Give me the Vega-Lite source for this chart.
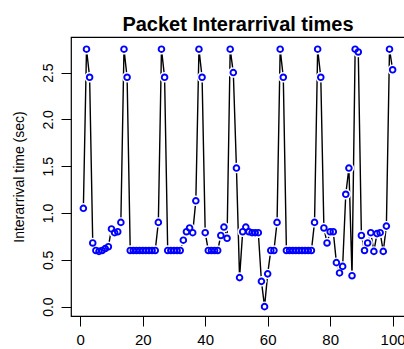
{
  "$schema": "https://vega.github.io/schema/vega-lite/v6.json",
  "autosize": {"type": "none"},
  "padding": {"left": 71, "top": 37, "right": 0, "bottom": 33},
  "width": 334,
  "height": 279,
  "background": "white",
  "config": {
    "font": "Liberation Sans",
    "view": {"stroke": "black", "strokeWidth": 1.2},
    "axis": {
      "grid": false,
      "domain": false,
      "tickColor": "black",
      "tickWidth": 1,
      "tickSize": 10,
      "labelColor": "black",
      "labelFont": "Liberation Sans",
      "labelFlush": false,
      "labelOverlap": false,
      "titleColor": "black",
      "titleFont": "Liberation Sans"
    }
  },
  "title": {
    "text": "Packet Interarrival times",
    "font": "Liberation Sans",
    "fontSize": 20,
    "fontWeight": "bold",
    "color": "black",
    "anchor": "middle",
    "baseline": "alphabetic",
    "offset": 7,
    "dy": 21
  },
  "data": {
    "values": [
      {"idx": 1, "t": 1.05}, {"idx": 2, "t": 2.75}, {"idx": 3, "t": 2.45}, {"idx": 4, "t": 0.68},
      {"idx": 5, "t": 0.6}, {"idx": 6, "t": 0.59}, {"idx": 7, "t": 0.6}, {"idx": 8, "t": 0.62},
      {"idx": 9, "t": 0.64}, {"idx": 10, "t": 0.83}, {"idx": 11, "t": 0.79}, {"idx": 12, "t": 0.8},
      {"idx": 13, "t": 0.9}, {"idx": 14, "t": 2.75}, {"idx": 15, "t": 2.45}, {"idx": 16, "t": 0.6},
      {"idx": 17, "t": 0.6}, {"idx": 18, "t": 0.6}, {"idx": 19, "t": 0.6}, {"idx": 20, "t": 0.6},
      {"idx": 21, "t": 0.6}, {"idx": 22, "t": 0.6}, {"idx": 23, "t": 0.6}, {"idx": 24, "t": 0.6},
      {"idx": 25, "t": 0.9}, {"idx": 26, "t": 2.75}, {"idx": 27, "t": 2.45}, {"idx": 28, "t": 0.6},
      {"idx": 29, "t": 0.6}, {"idx": 30, "t": 0.6}, {"idx": 31, "t": 0.6}, {"idx": 32, "t": 0.6},
      {"idx": 33, "t": 0.71}, {"idx": 34, "t": 0.8}, {"idx": 35, "t": 0.84}, {"idx": 36, "t": 0.79},
      {"idx": 37, "t": 1.13}, {"idx": 38, "t": 2.75}, {"idx": 39, "t": 2.45}, {"idx": 40, "t": 0.79},
      {"idx": 41, "t": 0.6}, {"idx": 42, "t": 0.6}, {"idx": 43, "t": 0.6}, {"idx": 44, "t": 0.6},
      {"idx": 45, "t": 0.76}, {"idx": 46, "t": 0.85}, {"idx": 47, "t": 0.73}, {"idx": 48, "t": 2.75},
      {"idx": 49, "t": 2.5}, {"idx": 50, "t": 1.48}, {"idx": 51, "t": 0.31}, {"idx": 52, "t": 0.8},
      {"idx": 53, "t": 0.85}, {"idx": 54, "t": 0.8}, {"idx": 55, "t": 0.79}, {"idx": 56, "t": 0.79},
      {"idx": 57, "t": 0.79}, {"idx": 58, "t": 0.27}, {"idx": 59, "t": 0.0}, {"idx": 60, "t": 0.35},
      {"idx": 61, "t": 0.6}, {"idx": 62, "t": 0.6}, {"idx": 63, "t": 0.9}, {"idx": 64, "t": 2.75},
      {"idx": 65, "t": 2.45}, {"idx": 66, "t": 0.6}, {"idx": 67, "t": 0.6}, {"idx": 68, "t": 0.6},
      {"idx": 69, "t": 0.6}, {"idx": 70, "t": 0.6}, {"idx": 71, "t": 0.6}, {"idx": 72, "t": 0.6},
      {"idx": 73, "t": 0.6}, {"idx": 74, "t": 0.6}, {"idx": 75, "t": 0.9}, {"idx": 76, "t": 2.75},
      {"idx": 77, "t": 2.45}, {"idx": 78, "t": 0.84}, {"idx": 79, "t": 0.68}, {"idx": 80, "t": 0.8},
      {"idx": 81, "t": 0.8}, {"idx": 82, "t": 0.47}, {"idx": 83, "t": 0.36}, {"idx": 84, "t": 0.43},
      {"idx": 85, "t": 1.2}, {"idx": 86, "t": 1.48}, {"idx": 87, "t": 0.33}, {"idx": 88, "t": 2.75},
      {"idx": 89, "t": 2.72}, {"idx": 90, "t": 0.76}, {"idx": 91, "t": 0.6}, {"idx": 92, "t": 0.68},
      {"idx": 93, "t": 0.79}, {"idx": 94, "t": 0.59}, {"idx": 95, "t": 0.78}, {"idx": 96, "t": 0.79},
      {"idx": 97, "t": 0.59}, {"idx": 98, "t": 0.86}, {"idx": 99, "t": 2.75}, {"idx": 100, "t": 2.53}
    ]
  },
  "encoding": {
    "x": {
      "field": "idx",
      "type": "quantitative",
      "scale": {"domain": [-2.96, 103.96], "nice": false, "zero": false},
      "axis": {
        "title": null,
        "values": [0, 20, 40, 60, 80, 100],
        "format": "d",
        "labelFontSize": 15,
        "labelBaseline": "top",
        "labelPadding": 6
      }
    },
    "y": {
      "field": "t",
      "type": "quantitative",
      "scale": {"domain": [-0.1, 2.88], "nice": false, "zero": false},
      "axis": {
        "title": "Interarrival time (sec)",
        "values": [0, 0.5, 1, 1.5, 2, 2.5],
        "format": ".1f",
        "labelFontSize": 14,
        "labelAngle": 270,
        "labelAlign": "center",
        "labelBaseline": "bottom",
        "labelPadding": 6,
        "titleFontSize": 14,
        "titleFontWeight": "normal",
        "titleAngle": 270,
        "titleAlign": "center",
        "titleBaseline": "middle",
        "titleX": -52,
        "titleY": 139.5
      }
    }
  },
  "layer": [
    {"mark": {"type": "line", "color": "black", "strokeWidth": 1.4}},
    {"mark": {"type": "point", "shape": "circle", "filled": true, "color": "white", "strokeWidth": 0, "size": 110, "opacity": 1}},
    {"mark": {"type": "point", "shape": "circle", "filled": false, "color": "blue", "strokeWidth": 1.9, "size": 32, "opacity": 1}}
  ]
}
